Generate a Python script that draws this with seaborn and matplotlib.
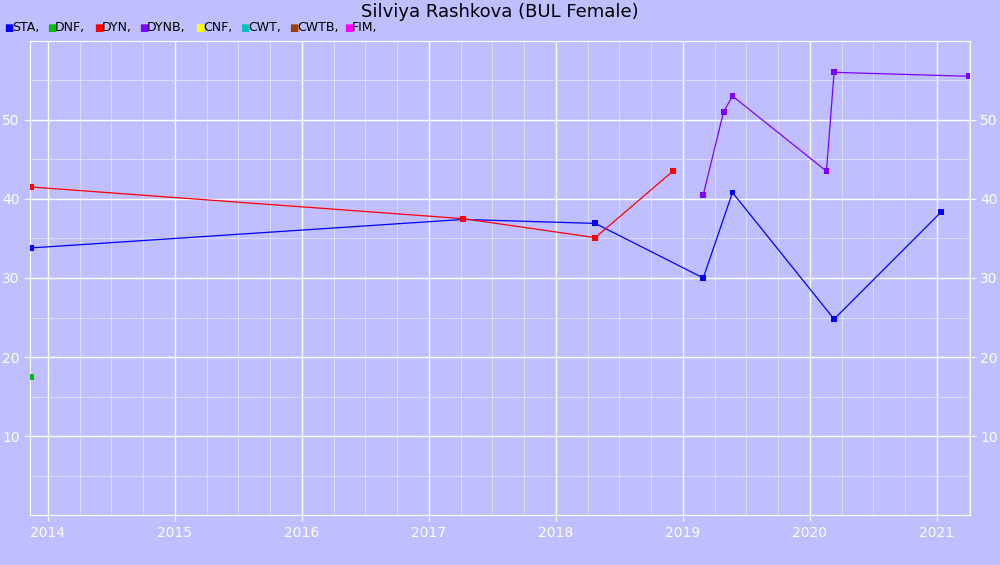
import matplotlib
matplotlib.use("Agg")
import matplotlib.pyplot as plt
import seaborn as sns
import pandas as pd

# fractional years / values
sta_x = [2013.87, 2017.27, 2018.31, 2019.16, 2019.39, 2020.19, 2021.03]
sta_y = [33.8, 37.4, 36.9, 30.0, 40.8, 24.8, 38.3]
dnf_x = [2013.87]
dnf_y = [17.5]
dyn_x = [2013.87, 2017.27, 2018.31, 2018.92]
dyn_y = [41.5, 37.5, 35.1, 43.5]
dynb_x = [2019.16, 2019.32, 2019.39, 2020.13, 2020.19, 2021.25]
dynb_y = [40.5, 51.0, 53.0, 43.5, 56.0, 55.5]

legend_names = ["STA", "DNF", "DYN", "DYNB", "CNF", "CWT", "CWTB", "FIM"]
legend_colors = ["#0000ff", "#00c000", "#ff0000", "#8000ff", "#ffff00", "#00c0c0", "#a04000", "#ff00ff"]
years = list(range(2014, 2022))

BG = "#bfbfff"

fig = plt.figure(figsize=(10, 5.65), dpi=100, facecolor=BG)
ax = fig.add_axes([0.03, 0.088, 0.94, 0.84], facecolor=BG)

series = [(sta_x, sta_y, "#0000ff"), (dnf_x, dnf_y, "#00c000"),
          (dyn_x, dyn_y, "#ff0000"), (dynb_x, dynb_y, "#8000ff")]
for xs, ys, c in series:
    df = pd.DataFrame({"x": xs, "y": ys})
    sns.lineplot(data=df, x="x", y="y", ax=ax, color=c, lw=0.9, sort=False)
    sns.scatterplot(data=df, x="x", y="y", ax=ax, color=c, marker="s", s=18,
                    edgecolor="none", zorder=3)

ax.set_xticks(years)
ax.set_xticklabels([str(y) for y in years])
ax.set_xticks([y + q for y in range(2013, 2022) for q in (0.25, 0.5, 0.75)], minor=True)
ax.set_yticks([10, 20, 30, 40, 50])
ax.set_yticks([5, 15, 25, 35, 45, 55], minor=True)
ax.set_xlim(2013.86, 2021.26)
ax.set_ylim(0, 60)
ax.grid(which="major", color="white", lw=1)
ax.grid(which="minor", color="#dcdcff", lw=0.7)
ax.set_axisbelow(True)
ax.tick_params(which="both", colors="white", labelcolor="white", labelsize=10,
               right=True, labelright=True, length=4)
ax.tick_params(which="minor", length=0)
for s in ax.spines.values():
    s.set_color("white")
ax.set_xlabel("")
ax.set_ylabel("")

fig.text(0.5, 0.978, "Silviya Rashkova (BUL Female)", ha="center", va="center", fontsize=13)
legend_px = [4, 47, 94, 139, 195, 240, 289, 344]
for px, name, c in zip(legend_px, legend_names, legend_colors):
    fig.text(px / 1000, 0.951, "\u25a0", color=c, fontsize=7, va="center")
    fig.text((px + 8) / 1000, 0.951, name + ",", fontsize=9, va="center")

fig.savefig("out.png", dpi=100, facecolor=BG)
